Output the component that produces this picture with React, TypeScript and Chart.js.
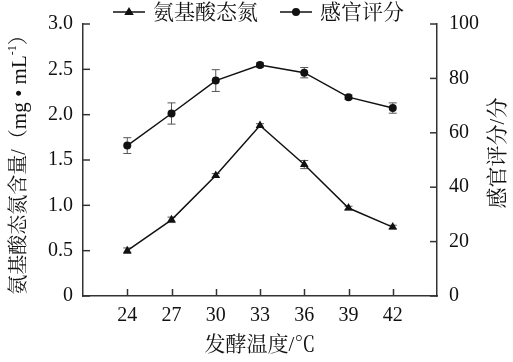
import React, { useEffect, useRef } from 'react';
import { Chart, registerables } from 'chart.js';

Chart.register(...registerables);

// ---- data ----
const temps = [24, 27, 30, 33, 36, 39, 42];
const amino = [0.5, 0.84, 1.33, 1.88, 1.45, 0.97, 0.76];
const aminoErr = [0.03, 0.03, 0.02, 0.02, 0.045, 0.02, 0.02];
const sensory = [55.3, 67.1, 79.2, 84.9, 82.1, 73.1, 69.1];
const sensoryErr = [2.9, 3.9, 4.0, 0.8, 1.9, 0.8, 1.9];
const xTicks = [24, 27, 30, 33, 36, 39, 42];
const leftTicks = [0, 0.5, 1.0, 1.5, 2.0, 2.5, 3.0];
const rightTicks = [0, 20, 40, 60, 80, 100];
const seriesNames = ['氨基酸态氮', '感官评分'];

const LATIN = "'Liberation Serif', serif";
const MIXED = "'Liberation Serif', 'Noto Serif CJK SC', serif";

const errorBarPlugin = {
  id: 'errorBars',
  beforeDatasetsDraw(chart: any) {
    const ctx = chart.ctx;
    const errs = [aminoErr, sensoryErr];
    const vals = [amino, sensory];
    chart.data.datasets.forEach((ds: any, di: number) => {
      const meta = chart.getDatasetMeta(di);
      const ys = chart.scales[ds.yAxisID];
      meta.data.forEach((pt: any, i: number) => {
        const x = pt.x;
        const top = ys.getPixelForValue(vals[di][i] + errs[di][i]);
        const bot = ys.getPixelForValue(vals[di][i] - errs[di][i]);
        ctx.save();
        ctx.strokeStyle = '#555';
        ctx.lineWidth = 1;
        ctx.beginPath();
        ctx.moveTo(x, top);
        ctx.lineTo(x, bot);
        ctx.moveTo(x - 4, top);
        ctx.lineTo(x + 4, top);
        ctx.moveTo(x - 4, bot);
        ctx.lineTo(x + 4, bot);
        ctx.stroke();
        ctx.restore();
      });
    });
  },
};

function drawMarker(ctx: CanvasRenderingContext2D, style: string, x: number, y: number, r: number) {
  ctx.beginPath();
  if (style === 'triangle') {
    ctx.moveTo(x, y - r);
    ctx.lineTo(x + r * 0.95, y + r * 0.6);
    ctx.lineTo(x - r * 0.95, y + r * 0.6);
    ctx.closePath();
  } else {
    ctx.arc(x, y, r, 0, Math.PI * 2);
  }
  ctx.fill();
}

const decorPlugin = {
  id: 'decor',
  afterDraw(chart: any) {
    const ctx: CanvasRenderingContext2D = chart.ctx;
    const area = chart.chartArea;
    ctx.save();
    // inward tick marks
    ctx.strokeStyle = '#333';
    ctx.lineWidth = 1.5;
    const tl = 7;
    const sx = chart.scales.x;
    sx.ticks.forEach((t: any) => {
      const p = Math.round(sx.getPixelForValue(t.value)) + 0.5;
      ctx.beginPath();
      ctx.moveTo(p, area.bottom);
      ctx.lineTo(p, area.bottom - tl);
      ctx.stroke();
    });
    const sy = chart.scales.y;
    sy.ticks.forEach((t: any) => {
      const p = sy.getPixelForValue(t.value);
      ctx.beginPath();
      ctx.moveTo(area.left, p);
      ctx.lineTo(area.left + tl, p);
      ctx.stroke();
    });
    const sy1 = chart.scales.y1;
    sy1.ticks.forEach((t: any) => {
      const p = sy1.getPixelForValue(t.value);
      ctx.beginPath();
      ctx.moveTo(area.right, p);
      ctx.lineTo(area.right - tl, p);
      ctx.stroke();
    });

    // legend
    ctx.fillStyle = '#111';
    ctx.strokeStyle = '#111';
    ctx.lineWidth = 1.5;
    const ly = 12;
    const items = [
      { x: 113, style: 'triangle', r: 5, tx: 153 },
      { x: 280, style: 'circle', r: 4, tx: 320 },
    ];
    items.forEach((it, i) => {
      ctx.beginPath();
      ctx.moveTo(it.x, ly);
      ctx.lineTo(it.x + 32, ly);
      ctx.stroke();
      drawMarker(ctx, it.style, it.x + 16, ly, it.r);
      ctx.font = `21px ${MIXED}`;
      ctx.textBaseline = 'middle';
      ctx.textAlign = 'left';
      ctx.fillText(seriesNames[i], it.tx, ly + 1);
    });

    // x title
    ctx.font = `21px ${MIXED}`;
    ctx.textAlign = 'center';
    ctx.textBaseline = 'middle';
    ctx.fillText('发酵温度/℃', (area.left + area.right) / 2, 345);

    // left title (rotated, with superscript)
    ctx.save();
    ctx.translate(20, 160);
    ctx.rotate(-Math.PI / 2);
    const parts = [
      { t: '氨基酸态氮含量/（', f: `20px ${MIXED}`, dy: 0 },
      { t: 'mg • mL', f: `21px ${LATIN}`, dy: 0 },
      { t: '-1', f: `12px ${LATIN}`, dy: -7 },
      { t: '）', f: `20px ${MIXED}`, dy: 0 },
    ];
    let total = 0;
    parts.forEach((p) => {
      ctx.font = p.f;
      total += ctx.measureText(p.t).width;
    });
    let cx = -total / 2;
    ctx.textAlign = 'left';
    parts.forEach((p) => {
      ctx.font = p.f;
      ctx.fillText(p.t, cx, p.dy);
      cx += ctx.measureText(p.t).width;
    });
    ctx.restore();

    // right title (rotated, reads bottom to top)
    ctx.save();
    ctx.translate(498, 153);
    ctx.rotate(-Math.PI / 2);
    ctx.font = `21px ${MIXED}`;
    ctx.textAlign = 'center';
    ctx.fillText('感官评分/分', 0, 0);
    ctx.restore();

    ctx.restore();
  },
};

export default function App() {
  const ref = useRef<HTMLCanvasElement | null>(null);
  useEffect(() => {
    document.body.style.margin = '0';
    const canvas = ref.current;
    if (!canvas) return;
    Chart.defaults.font.family = LATIN;
    const tickFont = { family: LATIN, size: 20 };
    const chart = new Chart(canvas, {
      type: 'line',
      data: {
        datasets: [
          {
            label: seriesNames[0],
            data: temps.map((t, i) => ({ x: t, y: amino[i] })),
            yAxisID: 'y',
            borderColor: '#111',
            backgroundColor: '#111',
            borderWidth: 1.5,
            pointStyle: 'triangle',
            pointRadius: 5,
            pointBorderWidth: 0,
          },
          {
            label: seriesNames[1],
            data: temps.map((t, i) => ({ x: t, y: sensory[i] })),
            yAxisID: 'y1',
            borderColor: '#111',
            backgroundColor: '#111',
            borderWidth: 1.5,
            pointStyle: 'circle',
            pointRadius: 4,
            pointBorderWidth: 0,
          },
        ],
      },
      options: {
        animation: false,
        responsive: false,
        maintainAspectRatio: false,
        layout: { padding: { top: 20, left: 0, right: 0, bottom: 0 } },
        plugins: { legend: { display: false }, title: { display: false }, tooltip: { enabled: false } },
        scales: {
          x: {
            type: 'linear',
            min: 21,
            max: 45,
            afterBuildTicks: (s: any) => {
              s.ticks = xTicks.map((v) => ({ value: v }));
            },
            afterFit: (s: any) => {
              s.height = 66;
            },
            grid: { display: true, drawOnChartArea: false, drawTicks: false },
            border: { display: true, color: '#333', width: 1.5 },
            ticks: { font: tickFont, color: '#111', padding: 8, autoSkip: false, maxRotation: 0 },
          },
          y: {
            type: 'linear',
            position: 'left',
            min: 0,
            max: 3,
            afterBuildTicks: (s: any) => {
              s.ticks = leftTicks.map((v) => ({ value: v }));
            },
            afterFit: (s: any) => {
              s.width = 83;
            },
            grid: { display: true, drawOnChartArea: false, drawTicks: false },
            border: { display: true, color: '#333', width: 1.5 },
            ticks: {
              font: tickFont,
              color: '#111',
              padding: 10,
              callback: (v: any) => (v === 0 ? '0' : Number(v).toFixed(1)),
            },
          },
          y1: {
            type: 'linear',
            position: 'right',
            min: 0,
            max: 100,
            afterBuildTicks: (s: any) => {
              s.ticks = rightTicks.map((v) => ({ value: v }));
            },
            afterFit: (s: any) => {
              s.width = 76;
            },
            grid: { display: true, drawOnChartArea: false, drawTicks: false },
            border: { display: true, color: '#333', width: 1.5 },
            ticks: { font: tickFont, color: '#111', padding: 12 },
          },
        },
      },
      plugins: [errorBarPlugin, decorPlugin],
    } as any);
    return () => chart.destroy();
  }, []);
  return (
    <div style={{ width: 513, height: 362 }}>
      <canvas ref={ref} width={513} height={362} style={{ width: 513, height: 362, display: 'block' }} />
    </div>
  );
}
